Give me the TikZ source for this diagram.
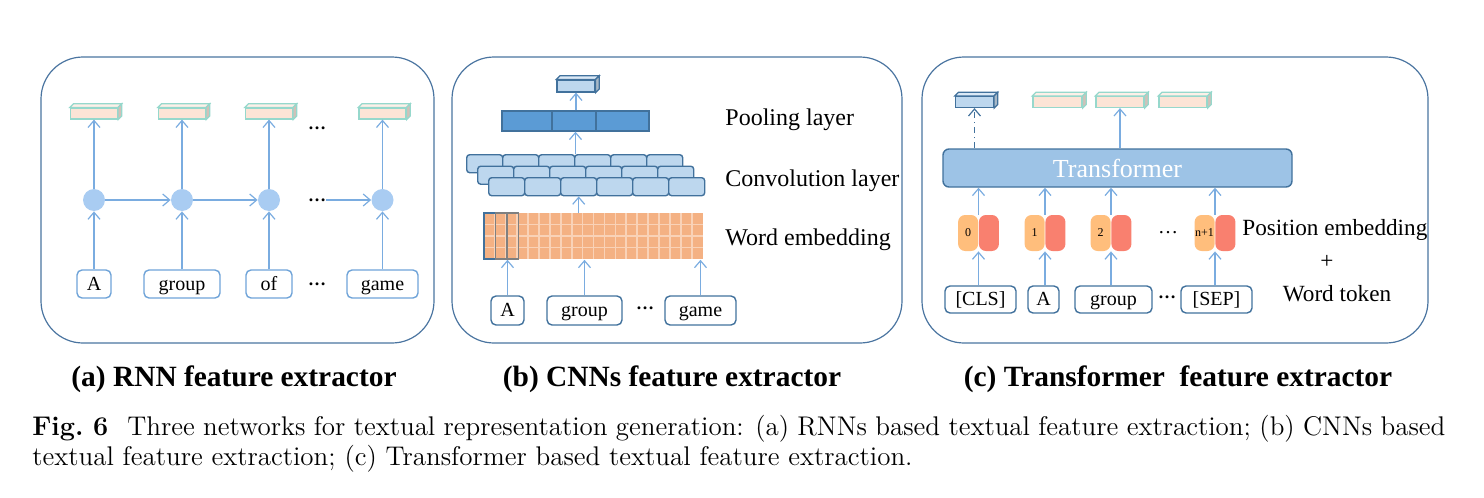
\documentclass[tikz,border=0pt]{standalone}
\usepackage{fontspec}
\newfontfamily\tnr{Liberation Serif}
\usetikzlibrary{arrows.meta}

\definecolor{framec}{HTML}{4A74A0}
\definecolor{arrowc}{HTML}{7AACE0}
\definecolor{cellc}{HTML}{A9CCF2}
\definecolor{wordc}{HTML}{6FA3D8}
\definecolor{darkc}{HTML}{41719C}
\definecolor{peachc}{HTML}{FCE4D6}
\definecolor{tealc}{HTML}{96D8CC}
\definecolor{paleblue}{HTML}{BDD7EE}
\definecolor{poolc}{HTML}{5B9BD5}
\definecolor{embc}{HTML}{F4B183}
\definecolor{emblinec}{HTML}{F9D2B7}
\definecolor{transc}{HTML}{9DC3E6}
\definecolor{posc}{HTML}{FFBE7C}
\definecolor{tokc}{HTML}{F9806F}

\tikzset{
  panelframe/.style={draw=framec, line width=0.6pt, rounded corners=21pt},
  arr/.style={draw=arrowc, line width=0.6pt, -{Straight Barb[length=3.5pt,width=6pt]}},
  dasharr/.style={draw=darkc, line width=0.6pt, dash pattern=on 3pt off 2pt on 0.6pt off 2pt,
    -{Straight Barb[length=3.5pt,width=6pt]}},
  wordA/.style={draw=wordc, line width=0.7pt, rounded corners=2.5pt, minimum height=14pt,
    inner sep=0pt, text height=7.6pt, text depth=1.6pt, font=\tnr\fontsize{10}{12}\selectfont},
  wordB/.style={wordA, draw=darkc},
  cell/.style={circle, fill=cellc, minimum size=11pt, inner sep=0pt},
  outbox/.style={draw=tealc, fill=peachc, line width=0.6pt, minimum height=5.5pt, inner sep=0pt},
  bluebox/.style={draw=darkc, fill=paleblue, line width=0.6pt, minimum height=5.5pt, inner sep=0pt},
  brick/.style={draw=darkc, fill=paleblue, line width=0.7pt, rounded corners=1.5pt,
    minimum width=18pt, minimum height=9pt, inner sep=0pt},
  pospill/.style={fill=posc, rounded corners=3.5pt, minimum width=10pt, minimum height=18pt,
    inner sep=0pt, font=\tnr\fontsize{6}{7}\selectfont},
  tokpill/.style={pospill, fill=tokc},
  lbl/.style={font=\tnr\fontsize{12}{14}\selectfont, inner sep=0pt},
  dots/.style={font=\tnr\bfseries\fontsize{9}{10}\selectfont, inner sep=0pt},
  subcap/.style={font=\tnr\bfseries\fontsize{14.7}{17}\selectfont, inner sep=0pt}
}

% top and side faces of a flat box: node, fill, border
\newcommand{\prismfaces}[3]{%
  \draw[draw=#3, fill=#2!55!white, line width=0.6pt] (#1.north west) -- ++(1.8pt,1.8pt)
    -- ([shift={(1.8pt,1.8pt)}]#1.north east) -- (#1.north east) -- cycle;
  \draw[draw=#3, fill=#2!65!gray, line width=0.6pt] (#1.north east) -- ++(1.8pt,1.8pt)
    -- ([shift={(1.8pt,1.8pt)}]#1.south east) -- (#1.south east) -- cycle;
}

\begin{document}
\begin{tikzpicture}[x=0.5pt, y=-0.5pt]
  \useasboundingbox (0,0) rectangle (1484,498);

  % (a) RNN
  \draw[panelframe] (41,57) rectangle (434,343);
  \foreach \n/\x/\w/\lab in {1/94/17/A, 2/182/38/group, 3/269/23/of, 4/382.5/35.5/game} {
    \node[wordA, minimum width=\w pt] (wa\n) at (\x,284) {\lab};
    \node[cell] (ha\n) at (\x,200) {};
    \node[outbox, minimum width=23.5pt] (oa\n) at (\x,113.5) {};
    \prismfaces{oa\n}{peachc}{tealc}
    \draw[arr] (wa\n) -- (ha\n);
    \draw[arr] (ha\n) -- (oa\n);
  }
  \node[dots] (da1) at (317,128) {\ldots};
  \node[dots] (da2) at (317,200) {\ldots};
  \node[dots] (da3) at (317,284) {\ldots};
  \draw[arr] (ha1) -- (ha2);
  \draw[arr] (ha2) -- (ha3);
  \draw[arr] (da2) -- (ha4);

  % (b) CNNs
  \draw[panelframe] (452,57) rectangle (902,343);
  \foreach \n/\x/\w/\lab in {1/507.5/16.5/A, 2/584.5/37.5/group, 3/700.5/35.5/game}
    \node[wordB, minimum width=\w pt, minimum height=14.5pt] (wb\n) at (\x,310.5) {\lab};
  \node[dots] (db) at (645,308) {\ldots};
  % word embedding
  \node[fill=embc, minimum width=109.5pt, minimum height=23pt, inner sep=0pt,
    anchor=north west] (emb) at (484,213) {};
  \foreach \i in {1,...,19}
    \draw[emblinec, line width=0.9pt] ({484+10.95*\i},213) -- ++(0,46);
  \foreach \j in {1,2,3}
    \draw[emblinec, line width=0.9pt] (484,{213+11.5*\j}) -- ++(219,0);
  \draw[darkc, line width=0.8pt] (484,213) rectangle ++(11.5,46);
  \draw[gray, line width=0.8pt] (495.5,213) rectangle ++(11.5,46) (507,213) rectangle ++(11.5,46);
  \foreach \n in {1,2,3}
    \draw[arr] (wb\n.north) -- (wb\n.north |- emb.south);
  % convolution
  \foreach \r/\x/\y in {1/466/154, 2/477/165.5, 3/488/177}
    \foreach \c in {1,...,6}
      \node[brick, anchor=north west] (cv-\r-\c) at ({\x+36*(\c-1)},\y) {};
  \draw[arr] (cv-3-3.south |- emb.north) -- (cv-3-3.south);
  % pooling
  \node[draw=darkc, fill=poolc, line width=0.7pt, minimum width=73.5pt, minimum height=10pt,
    inner sep=0pt] (pool) at (575.5,121) {};
  \draw[darkc, line width=0.7pt] (552,111) -- (552,131) (596,111) -- (596,131);
  \node[bluebox, minimum width=19pt, minimum height=6pt] (pb) at (576,86) {};
  \prismfaces{pb}{paleblue}{darkc}
  \draw[arr] (pool.north |- cv-1-1.north) -- (pool.south);
  \draw[arr] (pb.south |- pool.north) -- (pb.south);
  \node[lbl, anchor=west] (lpool) at (725,120) {Pooling layer};
  \node[lbl, anchor=west] (lconv) at (725,181) {Convolution layer};
  \node[lbl, anchor=west] (lemb) at (725,240) {Word embedding};

  % (c) Transformer
  \draw[panelframe] (922,57) rectangle (1428,343);
  \node[draw=darkc, fill=transc, line width=0.7pt, rounded corners=3pt, minimum width=174.5pt,
    minimum height=19pt, inner sep=0pt, text=white, font=\tnr\fontsize{13}{15}\selectfont]
    (tr) at (1117.5,168) {Transformer};
  \node[bluebox, minimum width=19pt] (pcb) at (974.5,102) {};
  \prismfaces{pcb}{paleblue}{darkc}
  \foreach \n/\x/\w in {1/1057.5/24.5, 2/1120/24, 3/1183/24} {
    \node[outbox, minimum width=\w pt] (pc\n) at (\x,102) {};
    \prismfaces{pc\n}{peachc}{tealc}
  }
  \draw[dasharr] (tr.north -| pcb) -- (pcb.south);
  \draw[arr] (tr.north -| pc2) -- (pc2.south);
  \foreach \n/\x/\lab in {1/978.5/0, 2/1045/1, 3/1111/2, 4/1215/n+1} {
    \coordinate (j\n) at (\x,233);
    \node[tokpill, anchor=west] (pt\n) at (j\n) {};
    \node[pospill, anchor=east] (pp\n) at (j\n) {\lab};
  }
  \foreach \n/\x/\w/\lab in {1/980.5/35.5/{[CLS]}, 2/1043.5/15.5/A, 3/1113.5/38.5/group, 4/1216.5/35.5/{[SEP]}}
    \node[wordB, minimum width=\w pt, minimum height=13.5pt] (wc\n) at (\x,299.5) {\lab};
  \foreach \n in {1,...,4} {
    \draw[arr] (wc\n.north -| j\n) -- (pp\n.south -| j\n);
    \draw[arr] (pp\n.north -| j\n) -- (tr.south -| j\n);
  }
  \node[dots, font=\tnr\fontsize{10}{12}\selectfont] (dc1) at (1168,233) {\ldots};
  \node[dots] (dc2) at (1167,297) {\ldots};
  \node[lbl, anchor=west, font=\tnr\fontsize{11.6}{14}\selectfont] (lpos) at (1242,230) {Position embedding};
  \node[lbl, font=\tnr\fontsize{11.6}{14}\selectfont] (lplus) at (1327,262) {+};
  \node[lbl, font=\tnr\fontsize{11.6}{14}\selectfont] (ltok) at (1337,294) {Word token};

  % subcaptions and caption
  \node[subcap] (capa) at (234,379) {(a) RNN feature extractor};
  \node[subcap] (capb) at (672,379) {(b) CNNs feature extractor};
  \node[subcap] (capc) at (1178,379) {(c) Transformer\ \ feature extractor};
  \node[anchor=north west, inner sep=0pt, text width=706.5pt, align=justify,
    font=\fontsize{13.5}{14.8}\selectfont] (caption) at (32,415)
    {\textbf{Fig.~6}\hspace{0.7em}Three networks for textual representation generation: (a) RNNs based textual feature extraction; (b) CNNs based\linebreak textual feature extraction; (c) Transformer based textual feature extraction.};
\end{tikzpicture}
\end{document}
